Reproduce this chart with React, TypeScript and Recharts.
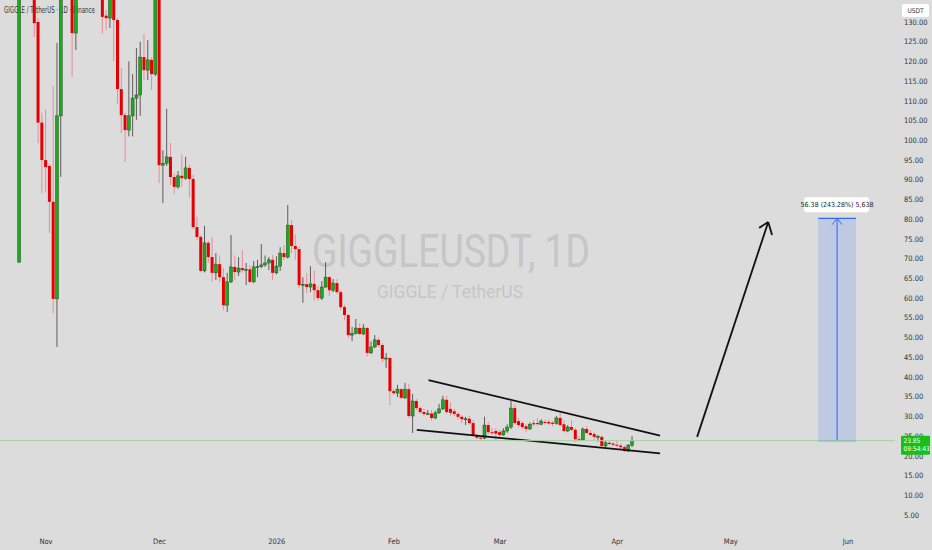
import React from "react";
import {
  ComposedChart,
  Bar,
  XAxis,
  YAxis,
  ReferenceLine,
  ReferenceArea,
  ReferenceDot,
} from "recharts";

// day index 0 = 1 Nov 2025, first candle is 25 Oct 2025
const firstDay = -7;

const opens = [
  69.1, 150, 180, 165, 150, 130, 104.5, 95, 93.5, 84.4,
  59.8, 106.2, 148, 155, 145, 127.2, 142, 150, 158, 152,
  160, 150, 145, 131.6, 131, 139, 130.5, 113, 106.4, 102.6,
  106.2, 110.7, 111.5, 121.1, 117.8, 120.4, 116.8, 145, 93.7, 94.2,
  95.8, 90.7, 88.2, 91, 90.4, 93, 90.2, 78, 75.5, 66.9,
  74, 70.4, 66.4, 68.6, 65.3, 58.2, 64.1, 67.9, 66.6, 67.6,
  67.1, 67.3, 64.1, 67.9, 68, 68.4, 68.9, 69.7, 66.4, 68.1,
  71.4, 70.4, 78.5, 73.2, 72.4, 63.3, 63.5, 62.8, 63.6, 62,
  60, 62.8, 65.3, 62, 63.8, 61.5, 57.7, 55.7, 50.6, 51,
  52.4, 50.9, 52.4, 46.1, 47.6, 49.4, 48.1, 44.6, 44.8, 36.4,
  35.9, 36.9, 34.7, 36.9, 30.1, 33.9, 32.1, 31.1, 30.6, 30.7,
  29.6, 30.9, 31.9, 34.2, 31.9, 31.3, 30.6, 29.9, 29.3, 29.4,
  28.3, 25.3, 24.6, 24.5, 27.8, 26, 26.3, 26, 25.3, 26.3,
  27.3, 32.1, 28.8, 28.3, 27.5, 26.8, 28.3, 28.3, 28, 28.6,
  28.6, 28.4, 28.2, 29.6, 28, 26.3, 27.3, 26.6, 24.2, 24,
  26.8, 25.8, 25.5, 24.8, 24.8, 22.5, 23.3, 23.1, 22.8, 22.6,
  22.2, 21.2, 22.7,
];
const highs = [
  165, 195, 190, 170, 155, 131, 107, 107.7, 94, 113.8,
  124.7, 152, 162, 160, 150, 146, 155, 163, 165, 166,
  163, 155, 148, 133, 140, 142, 131, 118.3, 107, 120,
  116.8, 123.4, 125, 127, 125.4, 121, 150, 147, 97.5, 108,
  99.3, 91.5, 92.2, 96.5, 95.8, 93.7, 91.2, 80.6, 76, 78.3,
  74.5, 75.5, 71.4, 70.8, 67.6, 66.4, 76, 70.8, 70.4, 72.2,
  68.9, 68.4, 69.4, 69.7, 73.7, 70.8, 70.4, 70.9, 70.6, 72.9,
  73.5, 83.6, 79.8, 76.2, 73, 65.3, 66.4, 68.1, 67, 63.1,
  64.3, 69.1, 65.6, 64.8, 64.8, 62.1, 58.3, 56, 52.7, 54.7,
  53.6, 53.4, 52.7, 49, 50.6, 50, 48.6, 46.1, 45.1, 37,
  38, 37.2, 38.5, 38.2, 35.7, 34.4, 32.6, 32, 31.6, 31.6,
  31.4, 33.2, 35.2, 35.2, 33.6, 31.9, 31.1, 30.4, 29.9, 30.1,
  29.1, 25.6, 25, 29.9, 28.5, 27, 27, 26.6, 27, 28,
  33.9, 33, 29.6, 28.8, 28, 28.5, 29.1, 29.6, 29.3, 29.1,
  29.3, 28.8, 30.1, 30.9, 29.1, 27.8, 29, 27, 25, 27.2,
  27.5, 26.5, 26, 25.3, 25.1, 23.8, 23.6, 23.4, 23.8, 23.1,
  22.6, 23, 25,
];
const lows = [
  69, 145, 158, 142, 126.2, 99.3, 86.6, 87, 76.5, 56.2,
  47.6, 90.7, 141, 140, 116, 122.9, 138, 146, 148, 147,
  145, 140, 127, 128, 128.5, 120, 109.2, 101.8, 94.5, 101,
  101, 105.2, 106.2, 115.3, 115.3, 112.8, 116.3, 89.2, 84.1, 93.5,
  88.7, 86.4, 87.7, 88.2, 90, 85.6, 77.5, 74.7, 66.5, 66.5,
  68.9, 64.1, 64.6, 64.1, 57, 56.5, 63.8, 64.6, 65.6, 66.4,
  63.3, 63.8, 63.8, 65.3, 67.6, 67.9, 67.1, 64.6, 66, 66.9,
  69.7, 70, 71.4, 69.7, 62.6, 58.8, 61.2, 61.5, 59.4, 59.4,
  59.5, 62.6, 60.5, 61.5, 61, 57, 54.4, 49.9, 49.1, 50.8,
  50.6, 50.6, 45.1, 45.8, 47.3, 47.6, 43.7, 42.3, 32.9, 35.4,
  34.9, 34.4, 34.4, 29.6, 25.8, 31.6, 30.6, 30, 30.3, 28.9,
  29.3, 30.6, 31.6, 30.6, 30.1, 30.1, 29.3, 28.3, 27.8, 27.9,
  25, 24.2, 24.1, 24.2, 25.5, 25.3, 23.8, 24.8, 25.1, 25.8,
  26.8, 27.9, 27.3, 26.8, 26, 26.6, 27.5, 27.5, 27.8, 27.9,
  27.8, 27.5, 27.9, 27.5, 26, 26, 26.3, 23.5, 23.6, 23.8,
  25.5, 25, 24, 23.6, 22.2, 22.2, 22.6, 22.4, 22.2, 21.6,
  20.9, 21, 22.2,
];
const closes = [
  150, 180, 165, 150, 129.7, 104.5, 95, 93.2, 84.4, 59.8,
  106.2, 148, 155, 145, 127.2, 142, 150, 158, 152, 160,
  150, 145, 131.3, 131, 139, 130.5, 113, 106.4, 102.6, 106.2,
  110.7, 111.5, 121.1, 117.8, 120.4, 116.8, 145, 93.7, 94.2, 95.8,
  90.7, 88.2, 91, 90.4, 93, 90.2, 78, 75.5, 66.9, 74,
  70.4, 66.4, 68.6, 65.3, 58.2, 64.1, 67.9, 66.6, 67.6, 67.1,
  67.3, 64.1, 67.9, 68, 68.4, 68.9, 69.7, 66.4, 68.1, 71.4,
  70.4, 78.5, 73.2, 72.4, 63.3, 63.5, 62.8, 63.6, 62, 60,
  62.8, 65.3, 62, 63.8, 61.5, 57.7, 55.7, 50.6, 51, 52.4,
  50.9, 52.4, 46.1, 47.6, 49.4, 48.1, 44.6, 44.8, 36.4, 35.9,
  36.9, 34.7, 36.9, 30.1, 33.9, 32.1, 31.1, 30.6, 30.7, 29.6,
  30.9, 31.9, 34.2, 31.1, 30.9, 30.6, 29.9, 29.3, 29.4, 28.3,
  25.3, 24.6, 24.5, 27.8, 26, 25.8, 25.6, 25.3, 26.3, 27.3,
  32.1, 28.3, 27.8, 27.3, 26.8, 28, 28, 28.1, 28.8, 28.4,
  28.2, 28.1, 29.6, 27.8, 26.3, 27.3, 26.6, 24.2, 24, 26.8,
  25.8, 25.3, 24.8, 24.9, 22.5, 23.3, 23, 22.8, 22.6, 22.2,
  21.2, 22.7, 23.85,
];

const monthTicks = [0, 30, 61, 92, 120, 151, 181, 212];
const monthLabels = ["Nov", "Dec", "2026", "Feb", "Mar", "Apr", "May", "Jun"];
const priceTicks = [
  5, 10, 15, 20, 25, 30, 35, 40, 45, 50, 55, 60, 65,
  70, 75, 80, 85, 90, 95, 100, 105, 110, 115, 120, 125, 130,
];

// drawings (day index, price)
const wedgeUpper = [{ x: 101.1, y: 39.2 }, { x: 162.3, y: 25.1 }];
const wedgeLower = [{ x: 98.0, y: 26.6 }, { x: 162.3, y: 20.6 }];
const arrowShaft = [{ x: 172.1, y: 24.8 }, { x: 190.9, y: 79.3 }];
const arrowHeadL = [{ x: 190.9, y: 79.3 }, { x: 188.5, y: 77.8 }];
const arrowHeadR = [{ x: 190.9, y: 79.3 }, { x: 191.9, y: 76.0 }];

const lastPrice = 23.85;
const targetPrice = 80.23;
const measureFrom = 204.1;
const measureTo = 214.1;
const measureMid = 209.1;
const measureText = "56.38 (243.28%) 5,638";
const countdown = "09:54:43";

const candles = opens.map((o, i) => ({
  day: firstDay + i,
  open: o,
  high: highs[i],
  low: lows[i],
  close: closes[i],
  range: [lows[i], highs[i]],
}));

const GREEN = "#1aab1a";
const RED = "#e60000";
const BLUE = "#2f6bff";
const axisFont = "'Liberation Sans Narrow', 'DejaVu Sans Condensed', Roboto, sans-serif";

const Candle = (props: any) => {
  const { x, y, width, height, payload } = props;
  if (!payload) return null;
  const { open, close, high, low } = payload;
  const k = high > low ? height / (high - low) : 0;
  const yOf = (v: number) => y + (high - v) * k;
  const up = close >= open;
  const top = yOf(Math.max(open, close));
  const bot = yOf(Math.min(open, close));
  const cx = x + width / 2;
  return (
    <g>
      <line x1={cx} x2={cx} y1={y} y2={y + height} stroke={up ? "#5c5c5c" : "#ea8c96"} strokeWidth={1} />
      <rect
        x={x}
        y={top}
        width={width}
        height={Math.max(1, bot - top)}
        fill={up ? GREEN : RED}
        stroke={up ? "#2f4a2f" : "none"}
        strokeWidth={0.5}
      />
    </g>
  );
};

const TimeTick = (props: any) => {
  const { x, y, payload } = props;
  const i = monthTicks.indexOf(payload.value);
  return (
    <text x={x} y={y} dy={16} textAnchor="middle" fontSize={7.5} fill="#333" fontFamily={axisFont}>
      {monthLabels[i]}
    </text>
  );
};

// the last-price tag sits on the price scale, drawn over the regular ticks
const PriceTick = (props: any) => {
  const { x, y, payload } = props;
  if (payload.value === lastPrice) {
    const left = x - 3;
    return (
      <g>
        <rect x={left} y={y - 5} width={29} height={19} fill="#16c116" rx={1} />
        <text x={left + 2.5} y={y + 2.5} fontSize={6.5} fill="#fff" fontFamily={axisFont}>
          {lastPrice.toFixed(2)}
        </text>
        <text x={left + 2.5} y={y + 10.5} fontSize={6.5} fill="#fff" fontFamily={axisFont}>
          {countdown}
        </text>
      </g>
    );
  }
  return (
    <text x={x} y={y} dy={2.7} textAnchor="start" fontSize={7.5} fill="#333" fontFamily={axisFont}>
      {payload.value.toFixed(2)}
    </text>
  );
};

const MeasureLabel = (props: any) => {
  const { cx, cy } = props;
  return (
    <g>
      <rect x={cx - 33} y={cy - 21} width={65} height={15} rx={3} fill="#ffffff" />
      <text x={cx} y={cy - 11} textAnchor="middle" fontSize={7} fill="#222" fontFamily={axisFont}>
        {measureText}
      </text>
    </g>
  );
};

export default function App() {
  return (
    <div
      style={{
        position: "fixed",
        left: 0,
        top: 0,
        width: 932,
        height: 550,
        background: "#dcdcdc",
        overflow: "hidden",
      }}
    >
      <svg width={932} height={550} style={{ position: "absolute", left: 0, top: 0 }}>
        <text x={312} y={267} fontSize={46} fill="#c6c6c6" fontFamily="Roboto, sans-serif" textLength={278} lengthAdjust="spacingAndGlyphs">
          GIGGLEUSDT, 1D
        </text>
        <text x={377} y={298} fontSize={19} fill="#c6c6c6" fontFamily="Roboto, sans-serif" textLength={146} lengthAdjust="spacingAndGlyphs">
          GIGGLE / TetherUS
        </text>
        <text x={4} y={13} fontSize={8.5} fill="#333" fontFamily={axisFont} textLength={91} lengthAdjust="spacingAndGlyphs">
          GIGGLE / TetherUS · 1D · Binance
        </text>
      </svg>
      <div style={{ position: "absolute", left: 0, top: 0 }}>
        <ComposedChart width={932} height={550} data={candles} margin={{ top: 0, right: 0, bottom: 0, left: 0 }}>
          <XAxis
            dataKey="day"
            type="number"
            domain={[-12.16, 224.4]}
            allowDataOverflow
            ticks={monthTicks}
            interval={0}
            tick={<TimeTick />}
            tickLine={false}
            axisLine={false}
            tickSize={0}
            tickMargin={0}
            height={22}
          />
          <YAxis
            orientation="right"
            type="number"
            domain={[1.7, 135.58]}
            allowDataOverflow
            ticks={[...priceTicks, lastPrice]}
            interval={0}
            tick={<PriceTick />}
            tickLine={false}
            axisLine={false}
            tickSize={0}
            tickMargin={9}
            width={37}
          />
          <Bar dataKey="range" barSize={3} shape={<Candle />} isAnimationActive={false} />
          <ReferenceArea
            x1={measureFrom}
            x2={measureTo}
            y1={lastPrice}
            y2={targetPrice}
            fill={BLUE}
            fillOpacity={0.17}
            stroke="none"
          />
          <ReferenceLine segment={[{ x: measureFrom, y: targetPrice }, { x: measureTo, y: targetPrice }]} stroke={BLUE} strokeWidth={1.2} />
          <ReferenceLine segment={[{ x: measureFrom, y: lastPrice }, { x: measureTo, y: lastPrice }]} stroke={BLUE} strokeWidth={1.2} />
          <ReferenceLine segment={[{ x: measureMid, y: lastPrice }, { x: measureMid, y: targetPrice }]} stroke={BLUE} strokeWidth={1.1} />
          <ReferenceLine segment={[{ x: measureMid, y: targetPrice }, { x: measureMid - 1.3, y: targetPrice - 1.6 }]} stroke={BLUE} strokeWidth={1} />
          <ReferenceLine segment={[{ x: measureMid, y: targetPrice }, { x: measureMid + 1.3, y: targetPrice - 1.6 }]} stroke={BLUE} strokeWidth={1} />
          <ReferenceLine segment={wedgeUpper} stroke="#111" strokeWidth={1.8} />
          <ReferenceLine segment={wedgeLower} stroke="#111" strokeWidth={1.8} />
          <ReferenceLine segment={arrowShaft} stroke="#111" strokeWidth={1.8} />
          <ReferenceLine segment={arrowHeadL} stroke="#111" strokeWidth={1.8} />
          <ReferenceLine segment={arrowHeadR} stroke="#111" strokeWidth={1.8} />
          <ReferenceLine y={lastPrice} stroke="#a6d2a6" strokeWidth={1} />
          <ReferenceDot x={measureMid} y={targetPrice} r={0} shape={(p: any) => <MeasureLabel {...p} />} />
        </ComposedChart>
      </div>
      <svg width={932} height={550} style={{ position: "absolute", left: 0, top: 0, pointerEvents: "none" }}>
        <rect x={902} y={4} width={27} height={13} rx={2} fill="#fff" />
        <text x={915.5} y={13} textAnchor="middle" fontSize={6.5} fill="#333" fontFamily={axisFont}>
          USDT
        </text>
      </svg>
    </div>
  );
}
